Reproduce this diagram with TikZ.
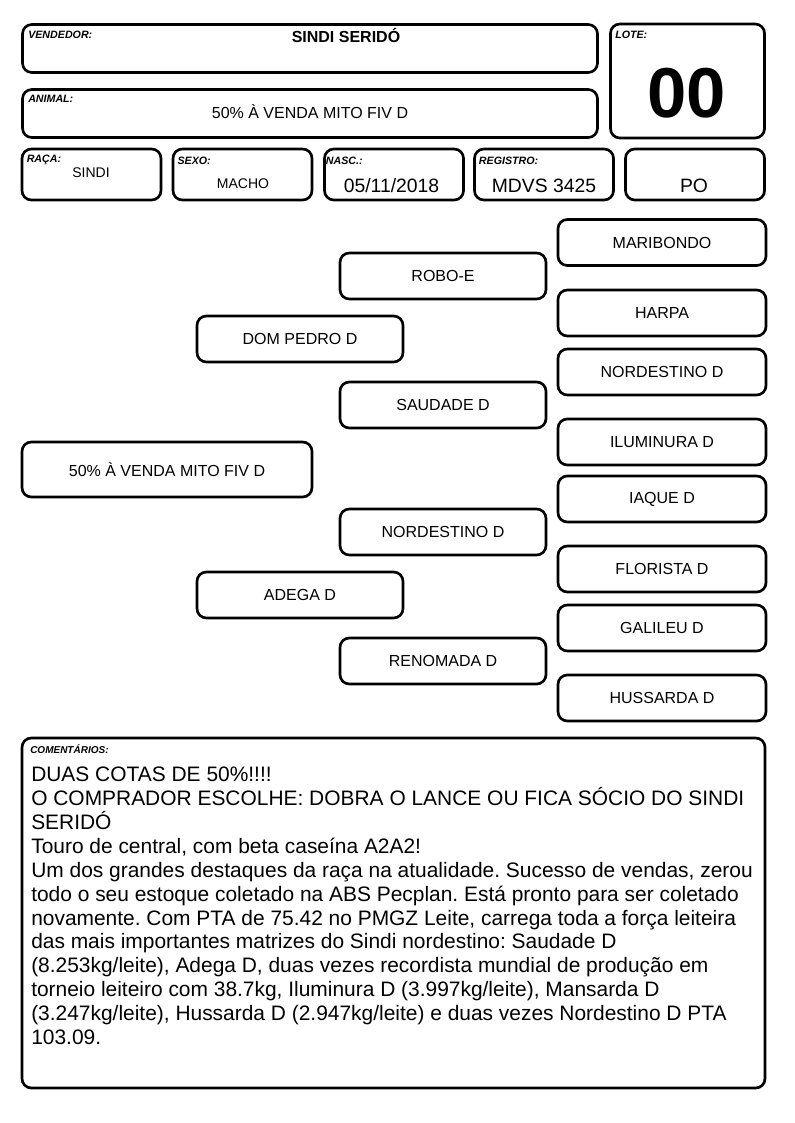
\documentclass[tikz,border=0pt]{standalone}
\usepackage{fontspec}
\setmainfont{Liberation Sans}
\newlength\pxu
\setlength\pxu{0.75pt}
\frenchspacing
\begin{document}
\begin{tikzpicture}[x=0.75pt,y=-0.75pt,
  frame/.style={draw, line width=2pt, rounded corners=7pt, inner sep=0pt, outer sep=0pt},
  ped/.style={frame, minimum width=206\pxu, minimum height=46\pxu, font=\fontsize{12}{14}\selectfont},
  rowbox/.style={frame, minimum width=139\pxu, minimum height=51\pxu},
  lbl/.style={anchor=base west, inner sep=0pt, font=\fontsize{8}{9}\selectfont\bfseries\itshape},
  val/.style={anchor=base, inner sep=0pt, font=\fontsize{14.5}{16}\selectfont},
  sval/.style={anchor=base, inner sep=0pt, font=\fontsize{10.5}{12}\selectfont},
  mval/.style={anchor=base, inner sep=0pt, font=\fontsize{12}{14}\selectfont},
]
\useasboundingbox (0,0) rectangle (794,1123);

% header
\node[frame, minimum width=575\pxu, minimum height=48\pxu] (vend) at (310,48.5) {};
\node[lbl] (vendl) at (28,39) {VENDEDOR:};
\node[mval, font=\fontsize{12}{14}\selectfont\bfseries] (vendv) at (346,43) {SINDI SERIDÓ};

\node[frame, minimum width=154\pxu, minimum height=114\pxu] (lote) at (687.5,81) {};
\node[lbl] (lotel) at (615,39) {LOTE:};
\node[anchor=base, inner sep=0pt, font=\fontsize{53}{60}\selectfont\bfseries] (lotev) at (687,118) {00};

\node[frame, minimum width=575\pxu, minimum height=48\pxu] (anim) at (310,113.5) {};
\node[lbl] (animl) at (28,103) {ANIMAL:};
\node[mval] (animv) at (310,119) {50\% À VENDA MITO FIV D};

\node[rowbox] (raca) at (91.5,174.5) {};
\node[lbl] (racal) at (26.5,163) {RAÇA:};
\node[sval] (racav) at (91,178) {SINDI};

\node[rowbox] (sexo) at (242.5,174.5) {};
\node[lbl] (sexol) at (177.3,164.5) {SEXO:};
\node[sval] (sexov) at (243,189) {MACHO};

\node[rowbox] (nasc) at (394,174.5) {};
\node[lbl] (nascl) at (325.7,164.5) {NASC.:};
\node[val] (nascv) at (391.5,193) {05/11/2018};

\node[rowbox] (reg) at (544,174.5) {};
\node[lbl] (regl) at (478.7,164.5) {REGISTRO:};
\node[val] (regv) at (544,193) {MDVS 3425};

\node[rowbox] (po) at (695,174.5) {};
\node[val] (pov) at (694,193) {PO};

% pedigree
\node[ped, minimum width=290\pxu, minimum height=55\pxu] (a0) at (167,469.5) {50\% À VENDA MITO FIV D};
\node[ped] (p1) at (300,339) {DOM PEDRO D};
\node[ped] (p2) at (300,595) {ADEGA D};
\node[ped] (g1) at (443,276) {ROBO-E};
\node[ped] (g2) at (443,405) {SAUDADE D};
\node[ped] (g3) at (443,532) {NORDESTINO D};
\node[ped] (g4) at (443,661) {RENOMADA D};
\node[ped, minimum width=208\pxu] (b1) at (662,242.5) {MARIBONDO};
\node[ped, minimum width=208\pxu] (b2) at (662,313) {HARPA};
\node[ped, minimum width=208\pxu] (b3) at (662,372) {NORDESTINO D};
\node[ped, minimum width=208\pxu] (b4) at (662,442) {ILUMINURA D};
\node[ped, minimum width=208\pxu] (b5) at (662,499) {IAQUE D};
\node[ped, minimum width=208\pxu] (b6) at (662,569) {FLORISTA D};
\node[ped, minimum width=208\pxu] (b7) at (662,628) {GALILEU D};
\node[ped, minimum width=208\pxu] (b8) at (662,698) {HUSSARDA D};

% comments
\node[frame, minimum width=743\pxu, minimum height=350\pxu] (com) at (393.5,913) {};
\node[lbl, font=\fontsize{7.5}{9}\selectfont\bfseries\itshape] (coml) at (30,753) {COMENTÁRIOS:};
\node[anchor=north west, inner sep=0pt, align=left, font=\fontsize{15.7}{17.9}\selectfont] (comt) at (31,767) {DUAS COTAS DE 50\%!!!!\\
O COMPRADOR ESCOLHE: DOBRA O LANCE OU FICA SÓCIO DO SINDI\\
SERIDÓ\\
Touro de central, com beta caseína A2A2!\\
Um dos grandes destaques da raça na atualidade. Sucesso de vendas, zerou\\
todo o seu estoque coletado na ABS Pecplan. Está pronto para ser coletado\\
novamente. Com PTA de 75.42 no PMGZ Leite, carrega toda a força leiteira\\
das mais importantes matrizes do Sindi nordestino: Saudade D\\
(8.253kg/leite), Adega D, duas vezes recordista mundial de produção em\\
torneio leiteiro com 38.7kg, Iluminura D (3.997kg/leite), Mansarda D\\
(3.247kg/leite), Hussarda D (2.947kg/leite) e duas vezes Nordestino D PTA\\
103.09.};
\end{tikzpicture}
\end{document}
